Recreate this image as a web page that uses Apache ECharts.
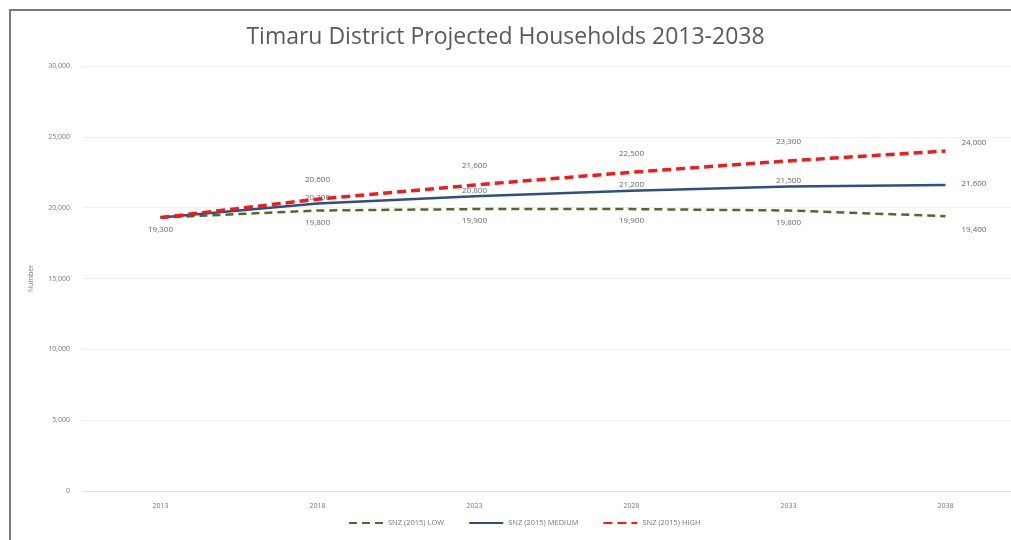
<!DOCTYPE html>
<html>
<head>
<meta charset="utf-8">
<script src="https://cdn.jsdelivr.net/npm/echarts@6/dist/echarts.min.js"></script>
<style>
  html, body { margin: 0; padding: 0; background: #fff; }
  #frame { position: absolute; left: 0; top: 0; width: 1011px; height: 540px; overflow: hidden; }
  #edge { position: absolute; left: 9px; top: 9px; width: 1100px; height: 600px;
          border-top: 2px solid #7a7a7a; border-left: 2px solid #7a7a7a; box-sizing: border-box; }
  #chart { position: absolute; left: 0; top: 0; width: 1011px; height: 540px; }
</style>
</head>
<body>
<div id="frame">
  <div id="edge"></div>
  <div id="chart"></div>
</div>
<script>
// Projection years
const years = ['2013', '2018', '2023', '2028', '2033', '2038'];

// SNZ (2015) household projections for Timaru District
const lowSeries = [19300, 19800, 19900, 19900, 19800, 19400];
const mediumSeries = [19300, 20300, 20800, 21200, 21500, 21600];
const highSeries = [19300, 20600, 21600, 22500, 23300, 24000];

const seriesNames = ['SNZ (2015) LOW', 'SNZ (2015) MEDIUM', 'SNZ (2015) HIGH'];

const fmt = v => Number(v).toLocaleString('en-US');
const labelFont = { fontFamily: 'Open Sans', fontSize: 8, color: '#666' };

// Build point list; the last point's label sits to the right, the first point
// is labelled only once (it is shared by all three projections).
function points(values, pos, showFirst) {
  return values.map((v, i) => {
    const p = { value: v };
    if (i === 0 && !showFirst) p.label = { show: false };
    if (i === values.length - 1) {
      p.label = { position: 'right', distance: 16,
                  offset: [0, pos === 'bottom' ? 14 : (pos === 'top' ? -8 : -1)] };
    }
    return p;
  });
}

const chart = echarts.init(document.getElementById('chart'), null, { renderer: 'canvas' });
chart.setOption({
  backgroundColor: 'transparent',
  animation: false,
  title: {
    text: 'Timaru District Projected Households 2013-2038',
    left: 'center',
    top: 21,
    textStyle: { fontFamily: 'Open Sans', fontSize: 23, fontWeight: 'normal', color: '#595959' }
  },
  legend: {
    bottom: 8,
    left: 343,
    itemWidth: 34,
    itemHeight: 10,
    itemGap: 24,
    itemStyle: { opacity: 0 },
    textStyle: { fontFamily: 'Open Sans', fontSize: 7.5, color: '#777' },
    data: seriesNames
  },
  grid: { left: 82, right: -13, top: 66, bottom: 49, containLabel: false, outerBoundsMode: 'none' },
  xAxis: {
    type: 'category',
    data: years,
    boundaryGap: true,
    axisLine: { show: true, lineStyle: { color: '#e2e2e2', width: 1 } },
    axisTick: { show: false },
    axisLabel: { fontFamily: 'Open Sans', fontSize: 7, color: '#777', margin: 11 }
  },
  yAxis: {
    type: 'value',
    min: 0,
    max: 30000,
    interval: 5000,
    name: 'Number',
    nameLocation: 'middle',
    nameGap: 48,
    nameTextStyle: { fontFamily: 'Open Sans', fontSize: 7, color: '#777' },
    axisLine: { show: false },
    axisTick: { show: false },
    axisLabel: { fontFamily: 'Open Sans', fontSize: 7, color: '#777', margin: 12, formatter: fmt },
    splitLine: { lineStyle: { color: '#efefef', width: 1 } }
  },
  series: [
    {
      name: seriesNames[0],
      type: 'line',
      data: points(lowSeries, 'bottom', true),
      symbol: 'circle',
      symbolSize: 0,
      showSymbol: true,
      color: '#4f6b2c',
      lineStyle: { color: '#4f6b2c', width: 2.5, type: [8, 5] },
      label: { show: true, position: 'bottom', distance: 8, formatter: p => fmt(p.value), ...labelFont },
      z: 3
    },
    {
      name: seriesNames[1],
      type: 'line',
      data: points(mediumSeries, 'mid', false),
      symbol: 'circle',
      symbolSize: 0,
      showSymbol: true,
      color: '#2f4f80',
      lineStyle: { color: '#2f4f80', width: 2.5 },
      label: { show: true, position: 'top', distance: 2, formatter: p => fmt(p.value), ...labelFont },
      z: 4
    },
    {
      name: seriesNames[2],
      type: 'line',
      data: points(highSeries, 'top', false),
      symbol: 'circle',
      symbolSize: 0,
      showSymbol: true,
      color: '#ee1c1c',
      lineStyle: { color: '#ee1c1c', width: 3.5, type: [9, 5] },
      label: { show: true, position: 'top', distance: 15, formatter: p => fmt(p.value), ...labelFont },
      z: 5
    }
  ]
});
</script>
</body>
</html>
